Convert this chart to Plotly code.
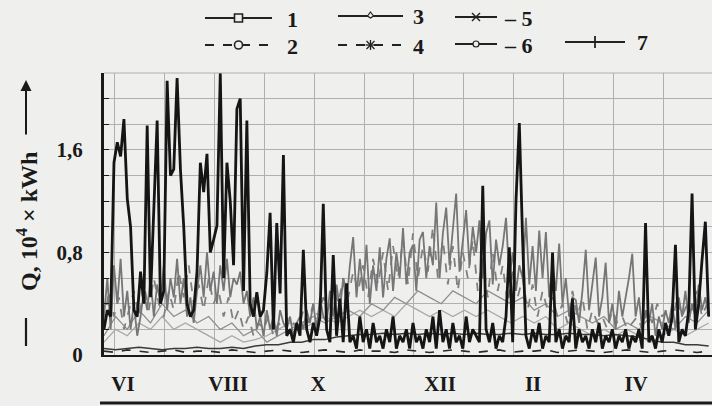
import plotly.graph_objects as go

# ---------------- data ----------------
# sampling days (from 1 June)
days2 = list(range(0, 366, 2))   # 183 samples
days3 = list(range(0, 366, 3))   # 122 samples
days7 = list(range(0, 366, 7))   # 53 samples

month_labels = ["VI", "VIII", "X", "XII", "II", "IV"]
month_label_days = [11.4, 74.7, 128.8, 202.3, 258.3, 320.3]
grid_days = [6.6, 36.6, 66.6, 96.6, 126.6, 156.6, 186.6, 216.6, 246.6, 276.6, 306.6, 336.6]

y_tick_vals = [0, 0.8, 1.6]
y_tick_text = ["0", "0,8", "1,6"]

s7 = [0.2, 0.35, 0.3, 1.5, 1.66, 1.55, 1.84, 1.22, 1.0, 0.35,
      0.3, 0.65, 0.4, 1.79, 0.45, 1.09, 1.83, 0.4, 0.5, 2.14,
      1.4, 1.45, 2.16, 1.45, 1.0, 0.4, 0.3, 0.35, 0.65, 1.5,
      1.27, 1.57, 0.8, 0.9, 1.01, 2.2, 0.6, 1.5, 1.2, 0.7,
      1.92, 2.0, 0.5, 1.83, 0.4, 0.3, 0.49, 0.3, 0.35, 0.64,
      1.11, 0.2, 1.03, 0.48, 1.56, 0.15, 0.2, 0.1, 0.25, 0.15,
      0.82, 0.2, 0.1, 0.25, 0.15, 0.3, 1.18, 0.2, 0.1, 0.78,
      0.15, 0.44, 0.1, 0.56, 0.1, 0.15, 0.05, 0.3, 0.1, 0.2,
      0.05, 0.25, 0.1, 0.15, 0.05, 0.2, 0.1, 0.3, 0.05, 0.15,
      0.1, 0.2, 0.05, 0.25, 0.1, 0.15, 0.05, 0.2, 0.1, 0.3,
      0.05, 0.35, 0.1, 0.2, 0.05, 0.25, 0.1, 0.15, 0.05, 0.3,
      0.1, 0.2, 0.15, 0.1, 1.32, 0.2, 0.1, 0.25, 0.05, 0.15,
      0.1, 0.3, 0.84, 0.1, 1.2, 1.81, 0.9, 0.15, 0.05, 0.2,
      0.1, 0.25, 0.05, 0.15, 0.1, 0.8, 0.1, 0.2, 0.05, 0.15,
      0.1, 0.44, 0.05, 0.2, 0.1, 0.15, 0.05, 0.2, 0.1, 0.25,
      0.05, 0.15, 0.1, 0.2, 0.05, 0.15, 0.1, 0.2, 0.05, 0.15,
      0.1, 0.2, 0.05, 1.03, 0.1, 0.15, 0.05, 0.2, 0.1, 0.25,
      0.15, 0.3, 0.86, 0.1, 0.2, 0.15, 0.35, 1.26, 0.2, 0.4,
      0.74, 1.04, 0.3]

s3 = [0.3, 0.6, 0.2, 0.7, 0.4, 0.75, 0.3, 0.5, 0.2, 0.4,
      0.15, 0.3, 0.5, 0.35, 0.6, 0.3, 0.55, 0.4, 0.7, 0.35,
      0.6, 0.45, 0.75, 0.4, 0.6, 0.3, 0.45, 0.25, 0.5, 0.7,
      0.45, 0.8, 0.5, 0.65, 0.4, 0.7, 0.5, 0.75, 0.45, 0.6,
      0.55, 0.65, 0.4, 0.5, 0.3, 0.45, 0.2, 0.3, 0.15, 0.35,
      0.2, 0.3, 0.15, 0.35, 0.25, 0.2, 0.3, 0.15, 0.25, 0.3,
      0.2, 0.35, 0.25, 0.4, 0.2, 0.45, 0.3, 0.25, 0.5, 0.3,
      0.55, 0.35, 0.6, 0.4, 0.7, 0.92, 0.45, 0.75, 0.5, 0.86,
      0.4, 0.7, 0.5, 0.84, 0.45, 0.75, 0.91, 0.5, 0.8, 0.6,
      0.99, 0.55, 0.8, 0.86, 0.5, 0.9, 0.96, 0.6, 0.85, 0.7,
      1.19, 0.6, 0.95, 1.15, 0.7, 1.0, 1.26, 0.65, 0.9, 1.13,
      0.7, 1.0, 0.8, 1.05, 0.6, 0.95, 1.05, 0.55, 0.9, 0.7,
      0.85, 1.07, 0.6, 0.8, 0.5, 0.7, 0.6, 1.07, 0.55, 0.85,
      0.5, 0.97, 0.6, 0.96, 0.45, 0.7, 0.5, 0.87, 0.4, 0.6,
      0.3, 0.45, 0.43, 0.25, 0.5, 0.82, 0.35, 0.55, 0.76, 0.3,
      0.45, 0.72, 0.25, 0.4, 0.2, 0.5, 0.3, 0.45, 0.6, 0.79,
      0.3, 0.45, 0.2, 0.35, 0.25, 0.4, 0.15, 0.3, 0.2, 0.35,
      0.25, 0.4, 0.2, 0.45, 0.3, 0.5, 0.25, 0.4, 0.3, 0.55,
      0.35, 0.45, 0.3]

s4 = [0.25, 0.5, 0.3, 0.45, 0.2, 0.35, 0.5, 0.3, 0.55, 0.35,
      0.6, 0.4, 0.3, 0.5, 0.35, 0.65, 0.45, 0.7, 0.4, 0.55,
      0.35, 0.6, 0.4, 0.5, 0.3, 0.45, 0.25, 0.35, 0.2, 0.3,
      0.15, 0.25, 0.2, 0.3, 0.15, 0.25, 0.2, 0.3, 0.25, 0.2,
      0.35, 0.25, 0.4, 0.3, 0.45, 0.35, 0.55, 0.4, 0.6, 0.45,
      0.65, 0.5, 0.7, 0.45, 0.75, 0.55, 0.8, 0.5, 0.85, 0.6,
      0.9, 0.55, 0.95, 0.6, 0.85, 0.65, 1.0, 0.6, 0.9, 0.55,
      0.85, 0.5, 0.8, 0.6, 0.9, 0.5, 0.75, 0.45, 0.8, 0.5,
      0.7, 0.4, 0.65, 0.45, 0.6, 0.35, 0.55, 0.3, 0.5, 0.35,
      0.45, 0.3, 0.4, 0.25, 0.5, 0.3, 0.45, 0.2, 0.35, 0.25,
      0.3, 0.2, 0.35, 0.25, 0.3, 0.2, 0.25, 0.3, 0.2, 0.35,
      0.25, 0.4, 0.3, 0.35, 0.25, 0.45, 0.3, 0.4, 0.35, 0.5,
      0.3, 0.4]

s1 = [0.05, 0.04, 0.05, 0.06, 0.05, 0.04, 0.05, 0.05, 0.06, 0.05,
      0.05, 0.06, 0.05, 0.07, 0.08, 0.08, 0.1, 0.1, 0.12, 0.12,
      0.14, 0.15, 0.16, 0.16, 0.17, 0.16, 0.17, 0.16, 0.17, 0.16,
      0.17, 0.16, 0.17, 0.16, 0.16, 0.17, 0.16, 0.17, 0.16, 0.16,
      0.17, 0.16, 0.16, 0.15, 0.16, 0.15, 0.14, 0.12, 0.1, 0.1,
      0.08, 0.08, 0.07]

s2 = [0.03, 0.02, 0.04, 0.03, 0.02, 0.03, 0.04, 0.02, 0.03, 0.03,
      0.02, 0.04, 0.03, 0.02, 0.03, 0.04, 0.03, 0.02, 0.03, 0.04,
      0.03, 0.02, 0.04, 0.03, 0.03, 0.02, 0.04, 0.03, 0.02, 0.03,
      0.04, 0.03, 0.02, 0.03, 0.04, 0.02, 0.03, 0.03, 0.04, 0.02,
      0.03, 0.04, 0.03, 0.02, 0.03, 0.04, 0.03, 0.02, 0.03, 0.04,
      0.03, 0.02, 0.03]

s5 = [0.15, 0.3, 0.2, 0.35, 0.25, 0.4, 0.3, 0.35, 0.25, 0.3,
      0.2, 0.25, 0.15, 0.2, 0.1, 0.15, 0.2, 0.25, 0.3, 0.25,
      0.3, 0.35, 0.3, 0.4, 0.35, 0.45, 0.4, 0.5, 0.45, 0.4,
      0.5, 0.45, 0.4, 0.5, 0.45, 0.4, 0.45, 0.35, 0.4, 0.3,
      0.35, 0.3, 0.25, 0.3, 0.2, 0.25, 0.2, 0.3, 0.25, 0.2,
      0.3, 0.25, 0.35]

s6 = [0.1, 0.2, 0.15, 0.25, 0.2, 0.3, 0.2, 0.25, 0.2, 0.15,
      0.1, 0.15, 0.1, 0.12, 0.15, 0.2, 0.25, 0.2, 0.25, 0.3,
      0.25, 0.3, 0.35, 0.3, 0.35, 0.3, 0.4, 0.35, 0.3, 0.35,
      0.3, 0.35, 0.3, 0.35, 0.3, 0.25, 0.3, 0.25, 0.3, 0.2,
      0.25, 0.2, 0.15, 0.2, 0.15, 0.2, 0.15, 0.1, 0.15, 0.2,
      0.15, 0.2, 0.25]

# ---------------- figure ----------------
W, H = 712, 406
L, R, T, B = 104, 0, 73, 51
PW, PH = W - L - R, H - T - B
BG = "#efefed"
FONT = "Liberation Serif"
INK = "#1a1a1a"


def hx(px):
    return (px - L) / PW


def vy(py):
    return (H - B - py) / PH


fig = go.Figure()

fig.add_trace(go.Scatter(x=days7, y=s6, mode="lines", line=dict(color="#a8a8a8", width=1.3), showlegend=False))
fig.add_trace(go.Scatter(x=days7, y=s5, mode="lines", line=dict(color="#8f8f8f", width=1.3), showlegend=False))
fig.add_trace(go.Scatter(x=days3, y=s4, mode="lines", line=dict(color="#808080", width=1.8, dash="dash"), showlegend=False))
fig.add_trace(go.Scatter(x=days2, y=s3, mode="lines", line=dict(color="#767676", width=1.8), showlegend=False))
fig.add_trace(go.Scatter(x=days7, y=s1, mode="lines", line=dict(color="#3a3a3a", width=1.5), showlegend=False))
fig.add_trace(go.Scatter(x=days7, y=s2, mode="lines", line=dict(color="#2a2a2a", width=1.6, dash="dash"), showlegend=False))
fig.add_trace(go.Scatter(x=days2, y=s7, mode="lines", line=dict(color="#151515", width=2.8), showlegend=False))

shapes = []
annotations = []

# legend (drawn manually in the reference's two-row layout)
leg = [
    ("1", 205, 272, 18, "solid", "square", 292),
    ("2", 205, 272, 45, "dash", "circle", 292),
    ("3", 338, 403, 16, "solid", "diamond", 418),
    ("4", 338, 403, 45, "dash", "star", 418),
    ("\u2013 5", 455, 497, 17, "solid", "x", 518),
    ("\u2013 6", 455, 497, 44, "solid", "dot", 518),
    ("7", 565, 625, 42, "solid", "cross", 642),
]
for lab, x0, x1, yy, dash, sym, tx in leg:
    shapes.append(dict(type="line", xref="paper", yref="paper", x0=hx(x0), x1=hx(x1), y0=vy(yy), y1=vy(yy),
                       line=dict(color="#222", width=1.8, dash="dash" if dash == "dash" else "solid")))
    cx = (x0 + x1) / 2
    s = 4
    if sym == "square":
        shapes.append(dict(type="rect", xref="paper", yref="paper", x0=hx(cx - s), x1=hx(cx + s), y0=vy(yy + s), y1=vy(yy - s),
                           line=dict(color="#222", width=1.6), fillcolor=BG))
    elif sym == "circle":
        shapes.append(dict(type="circle", xref="paper", yref="paper", x0=hx(cx - s), x1=hx(cx + s), y0=vy(yy + s), y1=vy(yy - s),
                           line=dict(color="#222", width=1.6), fillcolor=BG))
    elif sym == "dot":
        shapes.append(dict(type="circle", xref="paper", yref="paper", x0=hx(cx - 3), x1=hx(cx + 3), y0=vy(yy + 3), y1=vy(yy - 3),
                           line=dict(color="#222", width=1.2), fillcolor=BG))
    elif sym == "diamond":
        shapes.append(dict(type="path", xref="paper", yref="paper",
                           path=f"M {hx(cx)} {vy(yy-4)} L {hx(cx+3)} {vy(yy)} L {hx(cx)} {vy(yy+2)} L {hx(cx-3)} {vy(yy)} Z",
                           line=dict(color="#222", width=1.2), fillcolor=BG))
    elif sym == "x":
        for a, b in ((-4, -4), (-4, 4)):
            shapes.append(dict(type="line", xref="paper", yref="paper", x0=hx(cx + a), x1=hx(cx - a), y0=vy(yy + b), y1=vy(yy - b),
                               line=dict(color="#222", width=1.4)))
    elif sym == "cross":
        shapes.append(dict(type="line", xref="paper", yref="paper", x0=hx(cx), x1=hx(cx), y0=vy(yy - 6), y1=vy(yy + 6),
                           line=dict(color="#222", width=1.8)))
    elif sym == "star":
        for a, b in ((-4, -4), (-4, 4), (-5, 0), (0, -5)):
            shapes.append(dict(type="line", xref="paper", yref="paper", x0=hx(cx + a), x1=hx(cx - a), y0=vy(yy + b), y1=vy(yy - b),
                               line=dict(color="#222", width=1.3)))
    annotations.append(dict(text=lab, xref="paper", yref="paper", x=hx(tx), y=vy(yy + 1), xanchor="center",
                            yanchor="middle", showarrow=False,
                            font=dict(family=FONT, size=22, color=INK, weight="bold")))

# y-axis title: bar, text and upward arrow
annotations.append(dict(text="Q, 10<sup>4</sup> \u00d7 kWh", xref="paper", yref="paper",
                        x=hx(27), y=vy(222), xanchor="center", yanchor="middle", textangle=-90, showarrow=False,
                        font=dict(family=FONT, size=24, color=INK, weight="bold")))
shapes.append(dict(type="line", xref="paper", yref="paper", x0=hx(26), x1=hx(26), y0=vy(318), y1=vy(346),
                   line=dict(color=INK, width=2.2)))
annotations.append(dict(text="", xref="paper", yref="paper", x=hx(26), y=vy(80), ax=0, ay=56,
                        showarrow=True, arrowhead=2, arrowsize=1.1, arrowwidth=2, arrowcolor=INK))

# top border gridline and arrow line below month labels
shapes.append(dict(type="line", xref="paper", yref="paper", x0=0, x1=1, y0=1, y1=1, line=dict(color="#b0b0b0", width=1)))
shapes.append(dict(type="line", xref="paper", yref="paper", x0=hx(100), x1=hx(712), y0=vy(403), y1=vy(403),
                   line=dict(color=INK, width=3)))

tick_font = dict(family=FONT, size=21, color=INK, weight="bold")

fig.update_layout(
    width=W, height=H,
    margin=dict(l=L, r=R, t=T, b=B, pad=0),
    paper_bgcolor=BG, plot_bgcolor=BG,
    showlegend=False,
    shapes=shapes, annotations=annotations,
    font=dict(family=FONT, size=21, color=INK),
    xaxis=dict(range=[0, 366], tickmode="array", tickvals=month_label_days, ticktext=month_labels,
               showgrid=False, ticks="", ticklabelstandoff=9, zeroline=False,
               showline=True, linecolor=INK, linewidth=2, tickfont=tick_font,
               minor=dict(tickmode="array", tickvals=grid_days, showgrid=True, gridcolor="#b0b0b0", gridwidth=1, ticks="")),
    yaxis=dict(range=[0, 2.2], tickmode="array", tickvals=y_tick_vals, ticktext=y_tick_text,
               showgrid=True, gridcolor="#b0b0b0", gridwidth=1, zeroline=False,
               ticks="inside", ticklen=5, tickcolor=INK, ticklabelstandoff=14,
               showline=True, linecolor=INK, linewidth=3, tickfont=tick_font,
               minor=dict(dtick=0.2, tick0=0, showgrid=True, gridcolor="#b0b0b0", gridwidth=1,
                          ticks="inside", ticklen=5, tickcolor=INK)),
)

fig.write_html("out.html")
